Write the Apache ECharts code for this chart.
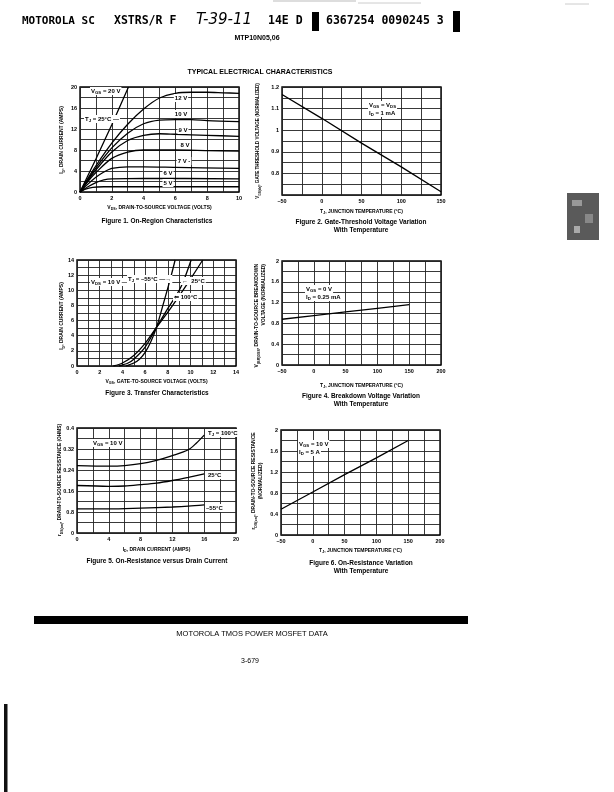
<!DOCTYPE html>
<html>
<head>
<meta charset="utf-8">
<script src="https://cdn.jsdelivr.net/npm/echarts@6/dist/echarts.min.js"></script>
<style>
  html, body { margin: 0; background: #fff; }
  #main { width: 614px; height: 792px; }
</style>
</head>
<body>
<div id="main"></div>
<script>
// Figure 1 - on-region characteristics, ID (A) vs VDS (V)
const fig1XTicks = ['0', '2', '4', '6', '8', '10']
const fig1YTicks = ['0', '4', '8', '12', '16', '20']
const fig1Range = { x: [0, 10, 2], y: [0, 20, 4] }
const vgs20V = [[0, 0], [1, 6.3], [2, 12.8], [3.05, 20]]
const vgs12V = [[0, 0], [0.5, 2.6], [1, 5], [2, 9.3], [3, 12.9], [4, 15.8], [5, 17.9], [6, 18.8], [7, 19], [8, 19], [9, 18.9], [10, 18.8]]
const vgs10V = [[0, 0], [0.5, 2.4], [1, 4.6], [2, 8.4], [3, 11.2], [4, 13], [5, 13.7], [6, 13.8], [7, 13.8], [8, 13.6], [10, 13.4]]
const vgs9V = [[0, 0], [0.5, 2.2], [1, 4.2], [2, 7.6], [3, 9.8], [4, 10.8], [5, 11.1], [6, 11], [8, 10.8], [10, 10.6]]
const vgs8V = [[0, 0], [0.5, 2], [1, 3.7], [2, 6.4], [3, 7.6], [4, 8], [6, 8], [8, 7.9], [10, 7.8]]
const vgs7V = [[0, 0], [0.5, 1.5], [1, 2.8], [1.5, 3.8], [2, 4.5], [3, 4.8], [4, 4.8], [6, 4.7], [10, 4.5]]
const vgs6V = [[0, 0], [0.5, 1], [1, 1.8], [1.5, 2.3], [2, 2.5], [4, 2.6], [10, 2.5]]
const vgs5V = [[0, 0], [0.3, 0.5], [0.8, 0.9], [1.5, 1.0], [10, 1.0]]

// Figure 2 - gate threshold voltage (normalized) vs TJ
const fig2XTicks = ['–50', '0', '50', '100', '150']
const fig2YTicks = ['', '0.8', '0.9', '1', '1.1', '1.2']
const fig2Range = { x: [-50, 150, 50], y: [0.7, 1.2, 0.1] }
const thresholdNorm = [[-50, 1.165], [0, 1.055], [50, 0.94], [100, 0.83], [150, 0.715]]

// Figure 3 - transfer characteristics, ID vs VGS
const fig3XTicks = ['0', '2', '4', '6', '8', '10', '12', '14']
const fig3YTicks = ['0', '2', '4', '6', '8', '10', '12', '14']
const fig3Range = { x: [0, 14, 2], y: [0, 14, 2] }
const transferM55 = [[4.3, 0], [5, 0.4], [5.5, 0.9], [6, 1.8], [6.5, 3.2], [7, 5.1], [7.6, 8.2], [8.2, 11.4], [8.64, 14]]
const transfer25 = [[3.7, 0], [4.5, 0.4], [5, 0.9], [6, 2.5], [7, 5.1], [8, 7.6], [9, 10], [9.5, 11.7], [10.05, 14]]
const transfer100 = [[3.2, 0], [4, 0.4], [5, 1.4], [6, 3], [7, 5.1], [8, 7.1], [9, 9.25], [10, 11.5], [11.07, 14]]

// Figure 4 - breakdown voltage (normalized) vs TJ
const fig4XTicks = ['–50', '0', '50', '100', '150', '200']
const fig4YTicks = ['0', '0.4', '0.8', '1.2', '1.6', '2']
const fig4Range = { x: [-50, 200, 50], y: [0, 2, 0.4] }
const breakdownNorm = [[-50, 0.88], [0, 0.95], [50, 1.02], [100, 1.09], [150, 1.16]]

// Figure 5 - on-resistance (ohms) vs ID
const fig5XTicks = ['0', '4', '8', '12', '16', '20']
const fig5YTicks = ['0', '0.8', '0.16', '0.24', '0.32', '0.4']
const fig5Range = { x: [0, 20, 4], y: [0, 0.4, 0.08] }
const onRes100 = [[0, 0.257], [4, 0.255], [6, 0.257], [8, 0.264], [10, 0.277], [12, 0.295], [14, 0.317], [15, 0.342], [16, 0.373]]
const onRes25 = [[0, 0.181], [4, 0.178], [6, 0.179], [8, 0.184], [10, 0.19], [12, 0.2], [14, 0.212], [16, 0.225]]
const onResM55 = [[0, 0.092], [4, 0.092], [8, 0.095], [12, 0.099], [14, 0.102], [16, 0.107]]

// Figure 6 - on-resistance (normalized) vs TJ
const fig6XTicks = ['–50', '0', '50', '100', '150', '200']
const fig6YTicks = ['0', '0.4', '0.8', '1.2', '1.6', '2']
const fig6Range = { x: [-50, 200, 50], y: [0, 2, 0.4] }
const onResNorm = [[-50, 0.49], [0, 0.82], [50, 1.15], [100, 1.47], [150, 1.8]]

const NARROW = "'Liberation Sans Narrow','Liberation Sans',Arial,sans-serif"
const SANS = "'Liberation Sans',Arial,sans-serif"
const MONO = "'DejaVu Sans Mono','Liberation Mono',monospace"

const grids = [
  { left: 80, top: 87, width: 159, height: 105 },
  { left: 282, top: 87, width: 159, height: 108 },
  { left: 77, top: 260, width: 159, height: 106 },
  { left: 282, top: 261, width: 159, height: 104 },
  { left: 77, top: 428, width: 159, height: 105 },
  { left: 281, top: 430, width: 159, height: 105 }
].map(g => Object.assign({ show: true, borderColor: '#000', borderWidth: 1.4, backgroundColor: 'transparent' }, g))

const subRich = size => ({
  s: { fontSize: size * 0.72, fontWeight: 'bold', fontFamily: NARROW, verticalAlign: 'bottom', lineHeight: size + 2 }
})

function axis(range, labels, gi, name, gap) {
  const a = {
    type: 'value',
    gridIndex: gi,
    min: range[0],
    max: range[1],
    interval: range[2],
    axisLine: { show: false },
    axisTick: { show: false },
    axisLabel: {
      fontSize: 5.5, fontWeight: 'bold', fontFamily: NARROW, color: '#000', margin: 3,
      formatter: (v, i) => labels[i]
    },
    splitLine: { show: true, lineStyle: { color: '#222', width: 0.9 } },
    minorTick: { show: false, splitNumber: 2 },
    minorSplitLine: { show: true, lineStyle: { color: '#222', width: 0.9 } }
  }
  if (name) {
    a.name = name
    a.nameLocation = 'middle'
    a.nameGap = gap
    a.nameTextStyle = { fontSize: 5, fontWeight: 'bold', fontFamily: NARROW, color: '#000', lineHeight: 7, rich: subRich(5) }
  }
  return a
}

function curve(data, gi, smooth) {
  return {
    type: 'line', xAxisIndex: gi, yAxisIndex: gi, data: data,
    symbol: 'none', smooth: smooth === false ? false : 0.3,
    lineStyle: { color: '#000', width: 1.3 }, silent: true, z: 5
  }
}

function txt(x, y, text, o) {
  o = o || {}
  const size = o.size || 6
  return {
    type: 'text', x: x, y: y, rotation: o.rotation || 0, silent: true, z: 10,
    style: {
      text: text, fill: '#000', fontSize: size, fontWeight: o.weight || 'bold',
      fontFamily: o.family || NARROW, fontStyle: o.style || 'normal',
      align: o.align || 'left', verticalAlign: o.va || 'middle',
      textAlign: o.align || 'left', textVerticalAlign: o.va || 'middle',
      backgroundColor: o.bg, padding: o.bg ? [0, 1, 0, 1] : 0,
      lineHeight: size + 2,
      rich: subRich(size)
    }
  }
}

const tempName = 'T{s|J}, JUNCTION TEMPERATURE (°C)'
const xAxes = [
  axis(fig1Range.x, fig1XTicks, 0, 'V{s|DS}, DRAIN-TO-SOURCE VOLTAGE (VOLTS)', 12),
  axis(fig2Range.x, fig2XTicks, 1, tempName, 13),
  axis(fig3Range.x, fig3XTicks, 2, 'V{s|GS}, GATE-TO-SOURCE VOLTAGE (VOLTS)', 12),
  axis(fig4Range.x, fig4XTicks, 3, tempName, 17),
  axis(fig5Range.x, fig5XTicks, 4, 'I{s|D}, DRAIN CURRENT (AMPS)', 13),
  axis(fig6Range.x, fig6XTicks, 5, tempName, 12)
]
const yAxes = [
  axis(fig1Range.y, fig1YTicks, 0),
  axis(fig2Range.y, fig2YTicks, 1),
  axis(fig3Range.y, fig3YTicks, 2),
  axis(fig4Range.y, fig4YTicks, 3),
  axis(fig5Range.y, fig5YTicks, 4),
  axis(fig6Range.y, fig6YTicks, 5)
]

const series = [
  curve(vgs20V, 0, false), curve(vgs12V, 0), curve(vgs10V, 0), curve(vgs9V, 0),
  curve(vgs8V, 0), curve(vgs7V, 0), curve(vgs6V, 0), curve(vgs5V, 0),
  curve(thresholdNorm, 1, false),
  curve(transferM55, 2), curve(transfer25, 2), curve(transfer100, 2),
  curve(breakdownNorm, 3, false),
  curve(onRes100, 4), curve(onRes25, 4), curve(onResM55, 4),
  curve(onResNorm, 5, false)
]

const ROT = Math.PI / 2
const graphics = [
  // scan marks at the very top
  { type: 'line', shape: { x1: 273, y1: 1, x2: 356, y2: 1 }, style: { stroke: '#bbb', lineWidth: 1 }, silent: true },
  { type: 'line', shape: { x1: 358, y1: 3, x2: 421, y2: 3 }, style: { stroke: '#ccc', lineWidth: 1 }, silent: true },
  { type: 'line', shape: { x1: 565, y1: 4, x2: 589, y2: 4 }, style: { stroke: '#ccc', lineWidth: 1 }, silent: true },
  // header line
  txt(22, 21, 'MOTOROLA SC', { size: 11, family: MONO }),
  txt(114, 21, 'XSTRS/R F', { size: 11.5, family: MONO }),
  txt(196, 20, 'T-39-11', { size: 15, weight: 'normal', family: "'DejaVu Sans',sans-serif", style: 'italic' }),
  txt(268, 21, '14E D', { size: 11.5, family: MONO }),
  { type: 'rect', shape: { x: 312, y: 12, width: 7, height: 19 }, style: { fill: '#000' }, silent: true },
  txt(326, 21, '6367254 0090245 3', { size: 11.5, family: MONO }),
  { type: 'rect', shape: { x: 453, y: 11, width: 7, height: 21 }, style: { fill: '#000' }, silent: true },
  txt(257, 38, 'MTP10N05,06', { size: 7, family: SANS, align: 'center' }),
  txt(260, 72, 'TYPICAL ELECTRICAL CHARACTERISTICS', { size: 7, family: SANS, align: 'center' }),

  // y axis names
  txt(62, 140, 'I{s|D}, DRAIN CURRENT (AMPS)', { size: 5, rotation: ROT, align: 'center' }),
  txt(258, 141, 'V{s|GS(th)}, GATE THRESHOLD VOLTAGE (NORMALIZED)', { size: 4.6, rotation: ROT, align: 'center' }),
  txt(62, 316, 'I{s|D}, DRAIN CURRENT (AMPS)', { size: 5, rotation: ROT, align: 'center' }),
  txt(257, 264, 'V{s|(BR)DSS}, DRAIN-TO-SOURCE BREAKDOWN', { size: 5, rotation: ROT, align: 'right' }),
  txt(263.5, 264, 'VOLTAGE (NORMALIZED)', { size: 5, rotation: ROT, align: 'right' }),
  txt(60, 480, 'r{s|DS(on)}, DRAIN-TO-SOURCE RESISTANCE (OHMS)', { size: 4.8, rotation: ROT, align: 'center' }),
  txt(254, 481, 'r{s|DS(on)}, DRAIN-TO-SOURCE RESISTANCE', { size: 5, rotation: ROT, align: 'center' }),
  txt(261, 481, '(NORMALIZED)', { size: 5, rotation: ROT, align: 'center' }),

  // figure 1 annotations
  txt(90, 91, 'V{s|GS} = 20 V', { bg: '#fff' }),
  txt(84, 119, 'T{s|J} = 25°C —', { bg: '#fff' }),
  txt(181, 98, '12 V', { align: 'center', bg: '#fff' }),
  txt(181, 114, '10 V', { align: 'center', bg: '#fff' }),
  txt(183, 130, '9 V', { align: 'center', bg: '#fff' }),
  txt(185, 145, '8 V', { align: 'center', bg: '#fff' }),
  txt(184, 161, '7 V -', { align: 'center', bg: '#fff' }),
  txt(168, 173, '6 V', { align: 'center', bg: '#fff' }),
  txt(168, 183, '5 V', { align: 'center', bg: '#fff' }),
  // figure 2
  txt(368, 105, 'V{s|GS} = V{s|DS}', { bg: '#fff' }),
  txt(368, 113, 'I{s|D} = 1 mA', { bg: '#fff' }),
  // figure 3
  txt(90, 282, 'V{s|DS} = 10 V —', { bg: '#fff' }),
  txt(127, 279, 'T{s|J} = –55°C —→', { bg: '#fff' }),
  txt(181, 281, '←  25°C', { bg: '#fff' }),
  txt(173, 297, '⇐ 100°C', { bg: '#fff' }),
  // figure 4
  txt(305, 289, 'V{s|GS} = 0 V', { bg: '#fff' }),
  txt(305, 297, 'I{s|D} = 0.25 mA', { bg: '#fff' }),
  // figure 5
  txt(92, 443, 'V{s|GS} = 10 V', { bg: '#fff' }),
  txt(207, 433, 'T{s|J} = 100°C', { bg: '#fff' }),
  txt(207, 475, '25°C', { bg: '#fff' }),
  txt(205, 508, '–55°C', { bg: '#fff' }),
  // figure 6
  txt(298, 444, 'V{s|GS} = 10 V', { bg: '#fff' }),
  txt(298, 452, 'I{s|D} = 5 A', { bg: '#fff' }),

  // captions
  txt(157, 221, 'Figure 1. On-Region Characteristics', { size: 6.5, family: SANS, align: 'center' }),
  txt(361, 222, 'Figure 2. Gate-Threshold Voltage Variation', { size: 6.5, family: SANS, align: 'center' }),
  txt(361, 230, 'With Temperature', { size: 6.5, family: SANS, align: 'center' }),
  txt(157, 393, 'Figure 3. Transfer Characteristics', { size: 6.5, family: SANS, align: 'center' }),
  txt(361, 396, 'Figure 4. Breakdown Voltage Variation', { size: 6.5, family: SANS, align: 'center' }),
  txt(361, 404, 'With Temperature', { size: 6.5, family: SANS, align: 'center' }),
  txt(157, 561, 'Figure 5. On-Resistance versus Drain Current', { size: 6.5, family: SANS, align: 'center' }),
  txt(361, 563, 'Figure 6. On-Resistance Variation', { size: 6.5, family: SANS, align: 'center' }),
  txt(361, 571, 'With Temperature', { size: 6.5, family: SANS, align: 'center' }),

  // scanned tab on the right edge
  { type: 'rect', shape: { x: 567, y: 193, width: 32, height: 47 }, style: { fill: '#5a5a5a' }, silent: true },
  { type: 'rect', shape: { x: 572, y: 200, width: 10, height: 6 }, style: { fill: '#999' }, silent: true },
  { type: 'rect', shape: { x: 585, y: 214, width: 8, height: 9 }, style: { fill: '#888' }, silent: true },
  { type: 'rect', shape: { x: 574, y: 226, width: 6, height: 7 }, style: { fill: '#aaa' }, silent: true },

  // footer
  { type: 'rect', shape: { x: 34, y: 616, width: 434, height: 8 }, style: { fill: '#000' }, silent: true },
  txt(252, 634, 'MOTOROLA TMOS POWER MOSFET DATA', { size: 7.5, weight: 'normal', family: SANS, align: 'center' }),
  txt(250, 661, '3-679', { size: 7, weight: 'normal', family: SANS, align: 'center' }),
  { type: 'rect', shape: { x: 4, y: 704, width: 3.5, height: 88 }, style: { fill: '#111' }, silent: true }
]

const chart = echarts.init(document.getElementById('main'))
chart.setOption({
  animation: false,
  backgroundColor: '#fff',
  grid: grids,
  xAxis: xAxes,
  yAxis: yAxes,
  series: series,
  graphic: graphics
})
</script>
</body>
</html>
